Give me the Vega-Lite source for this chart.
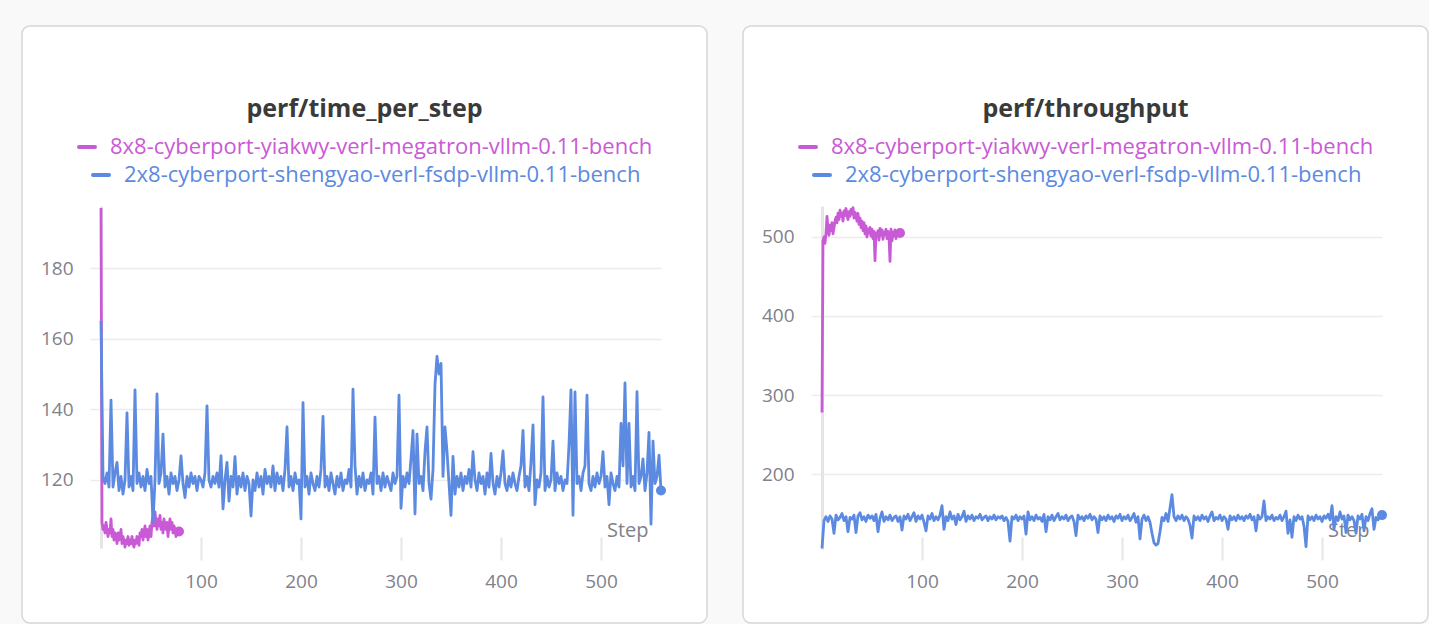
{
  "$schema": "https://vega.github.io/schema/vega-lite/v6.json",
  "background": "#f9f9fa",
  "padding": {"left": 21, "top": 25, "right": 0, "bottom": 0},
  "spacing": 34,
  "config": {
    "font": "Open Sans",
    "view": {"stroke": "#d6d6db", "strokeWidth": 1.5, "cornerRadius": 8, "fill": "white"},
    "title": {"anchor": "middle", "frame": "group", "fontSize": 25, "fontWeight": "bold", "color": "#3a3a3a", "font": "Open Sans"},
    "legend": {
      "orient": "none", "legendX": 55, "legendY": 110, "title": null, "direction": "vertical",
      "symbolType": "stroke", "symbolSize": 256, "symbolStrokeWidth": 4,
      "labelFontSize": 22, "labelFont": "Open Sans", "labelLimit": 1000, "rowPadding": 6, "padding": 0
    }
  },
  "datasets": {
    "tm": [
      {"step":0,"v":197},{"step":1,"v":108},{"step":2,"v":106},{"step":3,"v":107},{"step":4,"v":105},{"step":5,"v":108},{"step":6,"v":106},{"step":7,"v":104},{"step":8,"v":106},{"step":9,"v":105},
      {"step":10,"v":109},{"step":11,"v":104},{"step":12,"v":106},{"step":13,"v":103},{"step":14,"v":105},{"step":15,"v":104},{"step":16,"v":102},{"step":17,"v":105},{"step":18,"v":103},{"step":19,"v":104},
      {"step":20,"v":106},{"step":21,"v":102},{"step":22,"v":104},{"step":23,"v":103},{"step":24,"v":101},{"step":25,"v":103},{"step":26,"v":102},{"step":27,"v":104},{"step":28,"v":101.5},{"step":29,"v":103},
      {"step":30,"v":102},{"step":31,"v":104},{"step":32,"v":102},{"step":33,"v":101},{"step":34,"v":103},{"step":35,"v":102},{"step":36,"v":104},{"step":37,"v":103},{"step":38,"v":101.5},{"step":39,"v":105},
      {"step":40,"v":104},{"step":41,"v":106},{"step":42,"v":103},{"step":43,"v":105},{"step":44,"v":107},{"step":45,"v":104},{"step":46,"v":106},{"step":47,"v":103},{"step":48,"v":105},{"step":49,"v":107},
      {"step":50,"v":104},{"step":51,"v":108},{"step":52,"v":110},{"step":53,"v":107},{"step":54,"v":111},{"step":55,"v":108},{"step":56,"v":106},{"step":57,"v":109},{"step":58,"v":107},{"step":59,"v":110},
      {"step":60,"v":106},{"step":61,"v":108},{"step":62,"v":105},{"step":63,"v":109},{"step":64,"v":107},{"step":65,"v":106},{"step":66,"v":108},{"step":67,"v":104},{"step":68,"v":107},{"step":69,"v":109},
      {"step":70,"v":106},{"step":71,"v":108},{"step":72,"v":105},{"step":73,"v":107},{"step":74,"v":106},{"step":75,"v":104},{"step":76,"v":106},{"step":77,"v":105.5},{"step":78,"v":105.4}
    ],
    "tf": [
      {"step":0,"v":165},{"step":2,"v":121},{"step":4,"v":119},{"step":6,"v":122},{"step":8,"v":118},{"step":10,"v":142.6},{"step":12,"v":118},{"step":14,"v":122},{"step":16,"v":125},{"step":18,"v":117},
      {"step":20,"v":121},{"step":22,"v":116},{"step":24,"v":120},{"step":26,"v":139},{"step":28,"v":118},{"step":30,"v":121},{"step":32,"v":117},{"step":34,"v":145.5},{"step":36,"v":119},{"step":38,"v":122},
      {"step":40,"v":118},{"step":42,"v":121},{"step":44,"v":117},{"step":46,"v":123},{"step":48,"v":119},{"step":50,"v":121},{"step":52,"v":108},{"step":54,"v":120},{"step":56,"v":144.4},{"step":58,"v":119},
      {"step":60,"v":122},{"step":62,"v":133},{"step":64,"v":118},{"step":66,"v":121},{"step":68,"v":116},{"step":70,"v":122},{"step":72,"v":119},{"step":74,"v":121},{"step":76,"v":117},{"step":78,"v":120},
      {"step":80,"v":126.8},{"step":82,"v":119},{"step":84,"v":115},{"step":86,"v":121},{"step":88,"v":118},{"step":90,"v":122},{"step":92,"v":119},{"step":94,"v":121},{"step":96,"v":117},{"step":98,"v":121},
      {"step":100,"v":120},{"step":102,"v":118},{"step":104,"v":122},{"step":106,"v":141},{"step":108,"v":120},{"step":110,"v":118},{"step":112,"v":121},{"step":114,"v":119},{"step":116,"v":122},{"step":118,"v":118},
      {"step":120,"v":126.9},{"step":122,"v":111.8},{"step":124,"v":120},{"step":126,"v":125},{"step":128,"v":114},{"step":130,"v":121},{"step":132,"v":118},{"step":134,"v":126.6},{"step":136,"v":116},{"step":138,"v":121},
      {"step":140,"v":118},{"step":142,"v":122},{"step":144,"v":117},{"step":146,"v":121},{"step":148,"v":119},{"step":150,"v":109.8},{"step":152,"v":120},{"step":154,"v":117},{"step":156,"v":122},{"step":158,"v":118},
      {"step":160,"v":121},{"step":162,"v":116},{"step":164,"v":123},{"step":166,"v":119},{"step":168,"v":121},{"step":170,"v":118},{"step":172,"v":124},{"step":174,"v":117},{"step":176,"v":122},{"step":178,"v":119},
      {"step":180,"v":121},{"step":182,"v":117},{"step":184,"v":123},{"step":186,"v":135},{"step":188,"v":118},{"step":190,"v":121},{"step":192,"v":117},{"step":194,"v":122},{"step":196,"v":119},{"step":198,"v":120},
      {"step":200,"v":109},{"step":202,"v":141.9},{"step":204,"v":118},{"step":206,"v":121},{"step":208,"v":116},{"step":210,"v":122},{"step":212,"v":119},{"step":214,"v":117},{"step":216,"v":121},{"step":218,"v":118},
      {"step":220,"v":123},{"step":222,"v":138},{"step":224,"v":118},{"step":226,"v":121},{"step":228,"v":117},{"step":230,"v":122},{"step":232,"v":119},{"step":234,"v":116},{"step":236,"v":121},{"step":238,"v":118},
      {"step":240,"v":122},{"step":242,"v":117},{"step":244,"v":120},{"step":246,"v":119},{"step":248,"v":123},{"step":250,"v":118},{"step":252,"v":145.7},{"step":254,"v":124},{"step":256,"v":116},{"step":258,"v":121},
      {"step":260,"v":118},{"step":262,"v":122},{"step":264,"v":117},{"step":266,"v":120},{"step":268,"v":119},{"step":270,"v":122},{"step":272,"v":116},{"step":274,"v":137.8},{"step":276,"v":119},{"step":278,"v":121},
      {"step":280,"v":117},{"step":282,"v":122},{"step":284,"v":118},{"step":286,"v":121},{"step":288,"v":119},{"step":290,"v":117},{"step":292,"v":122},{"step":294,"v":119},{"step":296,"v":121},{"step":298,"v":144},
      {"step":300,"v":112},{"step":302,"v":121},{"step":304,"v":118},{"step":306,"v":122},{"step":308,"v":119},{"step":310,"v":126},{"step":312,"v":134},{"step":314,"v":110.4},{"step":316,"v":133},{"step":318,"v":119},
      {"step":320,"v":121},{"step":322,"v":117},{"step":324,"v":128},{"step":326,"v":135},{"step":328,"v":119},{"step":330,"v":114.6},{"step":332,"v":123},{"step":334,"v":147},{"step":336,"v":155},{"step":338,"v":150},
      {"step":340,"v":153},{"step":342,"v":121},{"step":344,"v":135},{"step":346,"v":128},{"step":348,"v":119},{"step":350,"v":110},{"step":352,"v":126.7},{"step":354,"v":116},{"step":356,"v":121},{"step":358,"v":118},
      {"step":360,"v":122},{"step":362,"v":117},{"step":364,"v":121},{"step":366,"v":119},{"step":368,"v":123},{"step":370,"v":118},{"step":372,"v":128},{"step":374,"v":120},{"step":376,"v":117},{"step":378,"v":122},
      {"step":380,"v":119},{"step":382,"v":121},{"step":384,"v":116},{"step":386,"v":122},{"step":388,"v":118},{"step":390,"v":127.5},{"step":392,"v":119},{"step":394,"v":116},{"step":396,"v":121},{"step":398,"v":118},
      {"step":400,"v":122},{"step":402,"v":128.2},{"step":404,"v":119},{"step":406,"v":117},{"step":408,"v":121},{"step":410,"v":118},{"step":412,"v":122},{"step":414,"v":119},{"step":416,"v":117},{"step":418,"v":121},
      {"step":420,"v":124},{"step":422,"v":134},{"step":424,"v":118},{"step":426,"v":121},{"step":428,"v":117},{"step":430,"v":125},{"step":432,"v":135.6},{"step":434,"v":113},{"step":436,"v":120},{"step":438,"v":118},
      {"step":440,"v":122},{"step":442,"v":143.5},{"step":444,"v":117},{"step":446,"v":121},{"step":448,"v":118},{"step":450,"v":120},{"step":452,"v":131},{"step":454,"v":117},{"step":456,"v":122},{"step":458,"v":119},
      {"step":460,"v":121},{"step":462,"v":117},{"step":464,"v":120},{"step":466,"v":119},{"step":468,"v":130},{"step":470,"v":145.5},{"step":472,"v":110},{"step":474,"v":144.9},{"step":476,"v":119},{"step":478,"v":121},
      {"step":480,"v":117},{"step":482,"v":122},{"step":484,"v":124},{"step":486,"v":144},{"step":488,"v":119},{"step":490,"v":117},{"step":492,"v":121},{"step":494,"v":118},{"step":496,"v":122},{"step":498,"v":119},
      {"step":500,"v":121},{"step":502,"v":128},{"step":504,"v":118},{"step":506,"v":121},{"step":508,"v":113},{"step":510,"v":122},{"step":512,"v":119},{"step":514,"v":117},{"step":516,"v":121},{"step":518,"v":118},
      {"step":520,"v":136},{"step":522,"v":124},{"step":524,"v":147.5},{"step":526,"v":119},{"step":528,"v":136},{"step":530,"v":118},{"step":532,"v":121},{"step":534,"v":117},{"step":536,"v":145},{"step":538,"v":119},
      {"step":540,"v":121},{"step":542,"v":126},{"step":544,"v":117},{"step":546,"v":122},{"step":548,"v":133.5},{"step":550,"v":107.5},{"step":552,"v":131},{"step":554,"v":119},{"step":556,"v":121},{"step":558,"v":127},
      {"step":560,"v":117}
    ],
    "pm": [
      {"step":0,"v":278},{"step":1,"v":495},{"step":2,"v":500},{"step":3,"v":492},{"step":4,"v":505},{"step":5,"v":526},{"step":6,"v":510},{"step":7,"v":502},{"step":8,"v":515},{"step":9,"v":508},
      {"step":10,"v":518},{"step":11,"v":504},{"step":12,"v":512},{"step":13,"v":520},{"step":14,"v":525},{"step":15,"v":518},{"step":16,"v":530},{"step":17,"v":522},{"step":18,"v":534},{"step":19,"v":526},
      {"step":20,"v":530},{"step":21,"v":520},{"step":22,"v":533},{"step":23,"v":527},{"step":24,"v":536},{"step":25,"v":528},{"step":26,"v":522},{"step":27,"v":532},{"step":28,"v":526},{"step":29,"v":535},
      {"step":30,"v":529},{"step":31,"v":537},{"step":32,"v":524},{"step":33,"v":531},{"step":34,"v":527},{"step":35,"v":520},{"step":36,"v":530},{"step":37,"v":516},{"step":38,"v":524},{"step":39,"v":512},
      {"step":40,"v":520},{"step":41,"v":508},{"step":42,"v":518},{"step":43,"v":504},{"step":44,"v":514},{"step":45,"v":500},{"step":46,"v":510},{"step":47,"v":505},{"step":48,"v":512},{"step":49,"v":501},
      {"step":50,"v":510},{"step":51,"v":498},{"step":52,"v":507},{"step":53,"v":470},{"step":54,"v":505},{"step":55,"v":500},{"step":56,"v":508},{"step":57,"v":496},{"step":58,"v":511},{"step":59,"v":502},
      {"step":60,"v":509},{"step":61,"v":497},{"step":62,"v":506},{"step":63,"v":503},{"step":64,"v":510},{"step":65,"v":498},{"step":66,"v":507},{"step":67,"v":500},{"step":68,"v":469},{"step":69,"v":510},
      {"step":70,"v":495},{"step":71,"v":506},{"step":72,"v":501},{"step":73,"v":509},{"step":74,"v":498},{"step":75,"v":507},{"step":76,"v":503},{"step":77,"v":508},{"step":78,"v":505}
    ],
    "pf": [
      {"step":0,"v":106},{"step":2,"v":141},{"step":4,"v":146},{"step":6,"v":140},{"step":8,"v":147},{"step":10,"v":143},{"step":12,"v":125},{"step":14,"v":148},{"step":16,"v":142},{"step":18,"v":145},
      {"step":20,"v":150},{"step":22,"v":141},{"step":24,"v":146},{"step":26,"v":127},{"step":28,"v":145},{"step":30,"v":143},{"step":32,"v":148},{"step":34,"v":126},{"step":36,"v":147},{"step":38,"v":151},
      {"step":40,"v":142},{"step":42,"v":146},{"step":44,"v":140},{"step":46,"v":148},{"step":48,"v":144},{"step":50,"v":147},{"step":52,"v":141},{"step":54,"v":149},{"step":56,"v":127},{"step":58,"v":144},
      {"step":60,"v":152},{"step":62,"v":140},{"step":64,"v":146},{"step":66,"v":142},{"step":68,"v":148},{"step":70,"v":141},{"step":72,"v":145},{"step":74,"v":147},{"step":76,"v":140},{"step":78,"v":146},
      {"step":80,"v":129},{"step":82,"v":147},{"step":84,"v":143},{"step":86,"v":149},{"step":88,"v":141},{"step":90,"v":146},{"step":92,"v":151},{"step":94,"v":140},{"step":96,"v":147},{"step":98,"v":143},
      {"step":100,"v":148},{"step":102,"v":139},{"step":104,"v":128},{"step":106,"v":147},{"step":108,"v":143},{"step":110,"v":150},{"step":112,"v":141},{"step":114,"v":146},{"step":116,"v":142},{"step":118,"v":148},
      {"step":120,"v":160},{"step":122,"v":130},{"step":124,"v":146},{"step":126,"v":141},{"step":128,"v":152},{"step":130,"v":143},{"step":132,"v":147},{"step":134,"v":136},{"step":136,"v":149},{"step":138,"v":142},
      {"step":140,"v":146},{"step":142,"v":153},{"step":144,"v":140},{"step":146,"v":147},{"step":148,"v":143},{"step":150,"v":148},{"step":152,"v":141},{"step":154,"v":146},{"step":156,"v":144},{"step":158,"v":149},
      {"step":160,"v":142},{"step":162,"v":145},{"step":164,"v":147},{"step":166,"v":141},{"step":168,"v":146},{"step":170,"v":143},{"step":172,"v":148},{"step":174,"v":142},{"step":176,"v":146},{"step":178,"v":144},
      {"step":180,"v":147},{"step":182,"v":141},{"step":184,"v":145},{"step":186,"v":140},{"step":188,"v":115},{"step":190,"v":146},{"step":192,"v":143},{"step":194,"v":148},{"step":196,"v":141},{"step":198,"v":146},
      {"step":200,"v":143},{"step":202,"v":147},{"step":204,"v":124},{"step":206,"v":152},{"step":208,"v":142},{"step":210,"v":146},{"step":212,"v":141},{"step":214,"v":148},{"step":216,"v":143},{"step":218,"v":145},
      {"step":220,"v":140},{"step":222,"v":149},{"step":224,"v":127},{"step":226,"v":146},{"step":228,"v":142},{"step":230,"v":148},{"step":232,"v":141},{"step":234,"v":146},{"step":236,"v":150},{"step":238,"v":142},
      {"step":240,"v":146},{"step":242,"v":143},{"step":244,"v":148},{"step":246,"v":141},{"step":248,"v":145},{"step":250,"v":147},{"step":252,"v":140},{"step":254,"v":122},{"step":256,"v":148},{"step":258,"v":143},
      {"step":260,"v":146},{"step":262,"v":141},{"step":264,"v":147},{"step":266,"v":144},{"step":268,"v":149},{"step":270,"v":142},{"step":272,"v":146},{"step":274,"v":143},{"step":276,"v":126},{"step":278,"v":147},
      {"step":280,"v":142},{"step":282,"v":146},{"step":284,"v":141},{"step":286,"v":148},{"step":288,"v":143},{"step":290,"v":146},{"step":292,"v":140},{"step":294,"v":147},{"step":296,"v":144},{"step":298,"v":149},
      {"step":300,"v":141},{"step":302,"v":146},{"step":304,"v":143},{"step":306,"v":148},{"step":308,"v":141},{"step":310,"v":145},{"step":312,"v":150},{"step":314,"v":139},{"step":316,"v":146},{"step":318,"v":118},
      {"step":320,"v":143},{"step":322,"v":148},{"step":324,"v":141},{"step":326,"v":146},{"step":328,"v":139},{"step":330,"v":125},{"step":332,"v":113},{"step":334,"v":110},{"step":336,"v":112},{"step":338,"v":127},
      {"step":340,"v":145},{"step":342,"v":141},{"step":344,"v":150},{"step":346,"v":140},{"step":348,"v":157},{"step":350,"v":174},{"step":352,"v":146},{"step":354,"v":141},{"step":356,"v":147},{"step":358,"v":143},
      {"step":360,"v":148},{"step":362,"v":141},{"step":364,"v":146},{"step":366,"v":143},{"step":368,"v":135},{"step":370,"v":119},{"step":372,"v":147},{"step":374,"v":142},{"step":376,"v":146},{"step":378,"v":141},
      {"step":380,"v":148},{"step":382,"v":143},{"step":384,"v":146},{"step":386,"v":140},{"step":388,"v":147},{"step":390,"v":152},{"step":392,"v":141},{"step":394,"v":145},{"step":396,"v":143},{"step":398,"v":148},
      {"step":400,"v":141},{"step":402,"v":146},{"step":404,"v":143},{"step":406,"v":130},{"step":408,"v":147},{"step":410,"v":142},{"step":412,"v":146},{"step":414,"v":141},{"step":416,"v":148},{"step":418,"v":143},
      {"step":420,"v":146},{"step":422,"v":141},{"step":424,"v":147},{"step":426,"v":144},{"step":428,"v":149},{"step":430,"v":142},{"step":432,"v":146},{"step":434,"v":128},{"step":436,"v":148},{"step":438,"v":143},
      {"step":440,"v":146},{"step":442,"v":166},{"step":444,"v":141},{"step":446,"v":146},{"step":448,"v":143},{"step":450,"v":148},{"step":452,"v":141},{"step":454,"v":145},{"step":456,"v":143},{"step":458,"v":148},
      {"step":460,"v":141},{"step":462,"v":146},{"step":464,"v":153},{"step":466,"v":125},{"step":468,"v":142},{"step":470,"v":120},{"step":472,"v":146},{"step":474,"v":141},{"step":476,"v":148},{"step":478,"v":143},
      {"step":480,"v":146},{"step":482,"v":134},{"step":484,"v":108},{"step":486,"v":147},{"step":488,"v":142},{"step":490,"v":146},{"step":492,"v":141},{"step":494,"v":148},{"step":496,"v":143},{"step":498,"v":146},
      {"step":500,"v":140},{"step":502,"v":147},{"step":504,"v":144},{"step":506,"v":149},{"step":508,"v":142},{"step":510,"v":160},{"step":512,"v":130},{"step":514,"v":146},{"step":516,"v":141},{"step":518,"v":152},
      {"step":520,"v":143},{"step":522,"v":147},{"step":524,"v":126},{"step":526,"v":148},{"step":528,"v":142},{"step":530,"v":146},{"step":532,"v":141},{"step":534,"v":125},{"step":536,"v":147},{"step":538,"v":143},
      {"step":540,"v":149},{"step":542,"v":128},{"step":544,"v":146},{"step":546,"v":141},{"step":548,"v":150},{"step":550,"v":156},{"step":552,"v":130},{"step":554,"v":145},{"step":556,"v":142},{"step":558,"v":147},
      {"step":560,"v":148}
    ]
  },
  "resolve": {
    "scale": {"x": "independent", "y": "independent", "color": "independent"},
    "legend": {"color": "independent"}
  },
  "hconcat": [
    {
      "width": 685,
      "height": 597,
      "title": {"text": "perf/time_per_step", "offset": -108, "baseline": "middle"},
      "encoding": {
        "x": {
          "field": "step", "type": "quantitative",
          "scale": {"domain": [0, 560], "range": [79, 639], "nice": false, "zero": false},
          "axis": {
            "orient": "bottom", "offset": -86, "domain": false, "grid": false,
            "ticks": true, "tickSize": 23, "tickWidth": 2, "tickColor": "#e6e6e6",
            "values": [100, 200, 300, 400, 500],
            "labelFontSize": 19, "labelColor": "#80818b", "labelPadding": 12, "labelFont": "Open Sans",
            "title": "Step", "titleX": 626, "titleY": -7, "titleAlign": "right", "titleBaseline": "middle",
            "titleFontWeight": "normal", "titleFontSize": 20, "titleColor": "#80818b", "titleFont": "Open Sans"
          }
        },
        "y": {
          "field": "v", "type": "quantitative",
          "scale": {"domain": [100.75, 197.55], "range": [522, 180], "nice": false, "zero": false},
          "axis": {
            "orient": "left", "offset": -79, "title": null,
            "domain": true, "domainColor": "#e4e4e4", "domainWidth": 3,
            "ticks": true, "tickSize": 11, "tickColor": "#ececec", "tickWidth": 1.5,
            "grid": true, "gridColor": "#ececec", "gridWidth": 1.5,
            "values": [120, 140, 160, 180],
            "labelFontSize": 19, "labelColor": "#80818b", "labelPadding": 17, "labelFont": "Open Sans"
          }
        }
      },
      "layer": [
        {
          "data": {"values": [{}]},
          "mark": {"type": "rule", "color": "#e4e4e4", "strokeWidth": 3},
          "encoding": {
            "x": {"datum": 0, "type": "quantitative"},
            "x2": {"datum": 560},
            "y": {"datum": 100.75, "type": "quantitative"}
          }
        },
        {
          "data": {"name": "tm"},
          "mark": {"type": "line", "strokeWidth": 2.8, "strokeJoin": "round"},
          "encoding": {
            "color": {
              "datum": "8x8-cyberport-yiakwy-verl-megatron-vllm-0.11-bench",
              "scale": {
                "domain": ["8x8-cyberport-yiakwy-verl-megatron-vllm-0.11-bench", "2x8-cyberport-shengyao-verl-fsdp-vllm-0.11-bench"],
                "range": ["#c95ad5", "#5b8ae0"]
              },
              "legend": {
                "encode": {
                  "symbols": {"update": {"x": {"signal": "10 + 14 * datum.index"}, "strokeCap": {"value": "round"}}},
                  "labels": {"update": {"x": {"signal": "33 + 14 * datum.index"}, "fill": {"signal": "datum.index === 0 ? '#c95ad5' : '#5b8ae0'"}}}
                }
              }
            }
          }
        },
        {
          "data": {"name": "tf"},
          "mark": {"type": "line", "strokeWidth": 2.8, "strokeJoin": "round"},
          "encoding": {"color": {"datum": "2x8-cyberport-shengyao-verl-fsdp-vllm-0.11-bench"}}
        },
        {
          "data": {"name": "tm"},
          "transform": [{"filter": "datum.step == 78"}],
          "mark": {"type": "point", "filled": true, "size": 100, "opacity": 1, "color": "#c95ad5"}
        },
        {
          "data": {"name": "tf"},
          "transform": [{"filter": "datum.step == 560"}],
          "mark": {"type": "point", "filled": true, "size": 100, "opacity": 1, "color": "#5b8ae0"}
        }
      ]
    },
    {
      "width": 685,
      "height": 597,
      "title": {"text": "perf/throughput", "offset": -108, "baseline": "middle"},
      "encoding": {
        "x": {
          "field": "step", "type": "quantitative",
          "scale": {"domain": [0, 560], "range": [79, 639], "nice": false, "zero": false},
          "axis": {
            "orient": "bottom", "offset": -86, "domain": false, "grid": false,
            "ticks": true, "tickSize": 23, "tickWidth": 2, "tickColor": "#e6e6e6",
            "values": [100, 200, 300, 400, 500],
            "labelFontSize": 19, "labelColor": "#80818b", "labelPadding": 12, "labelFont": "Open Sans",
            "title": "Step", "titleX": 626, "titleY": -7, "titleAlign": "right", "titleBaseline": "middle",
            "titleFontWeight": "normal", "titleFontSize": 20, "titleColor": "#80818b", "titleFont": "Open Sans"
          }
        },
        "y": {
          "field": "v", "type": "quantitative",
          "scale": {"domain": [105.1, 539.2], "range": [523, 180], "nice": false, "zero": false},
          "axis": {
            "orient": "left", "offset": -79, "title": null,
            "domain": true, "domainColor": "#e4e4e4", "domainWidth": 3,
            "ticks": true, "tickSize": 11, "tickColor": "#ececec", "tickWidth": 1.5,
            "grid": true, "gridColor": "#ececec", "gridWidth": 1.5,
            "values": [200, 300, 400, 500],
            "labelFontSize": 19, "labelColor": "#80818b", "labelPadding": 17, "labelFont": "Open Sans"
          }
        }
      },
      "layer": [
        {
          "data": {"values": [{}]},
          "mark": {"type": "rule", "color": "#e4e4e4", "strokeWidth": 3},
          "encoding": {
            "x": {"datum": 0, "type": "quantitative"},
            "x2": {"datum": 560},
            "y": {"datum": 105.1, "type": "quantitative"}
          }
        },
        {
          "data": {"name": "pm"},
          "mark": {"type": "line", "strokeWidth": 2.8, "strokeJoin": "round"},
          "encoding": {
            "color": {
              "datum": "8x8-cyberport-yiakwy-verl-megatron-vllm-0.11-bench",
              "scale": {
                "domain": ["8x8-cyberport-yiakwy-verl-megatron-vllm-0.11-bench", "2x8-cyberport-shengyao-verl-fsdp-vllm-0.11-bench"],
                "range": ["#c95ad5", "#5b8ae0"]
              },
              "legend": {
                "encode": {
                  "symbols": {"update": {"x": {"signal": "10 + 14 * datum.index"}, "strokeCap": {"value": "round"}}},
                  "labels": {"update": {"x": {"signal": "33 + 14 * datum.index"}, "fill": {"signal": "datum.index === 0 ? '#c95ad5' : '#5b8ae0'"}}}
                }
              }
            }
          }
        },
        {
          "data": {"name": "pf"},
          "mark": {"type": "line", "strokeWidth": 2.8, "strokeJoin": "round"},
          "encoding": {"color": {"datum": "2x8-cyberport-shengyao-verl-fsdp-vllm-0.11-bench"}}
        },
        {
          "data": {"name": "pm"},
          "transform": [{"filter": "datum.step == 78"}],
          "mark": {"type": "point", "filled": true, "size": 100, "opacity": 1, "color": "#c95ad5"}
        },
        {
          "data": {"name": "pf"},
          "transform": [{"filter": "datum.step == 560"}],
          "mark": {"type": "point", "filled": true, "size": 100, "opacity": 1, "color": "#5b8ae0"}
        }
      ]
    }
  ]
}
